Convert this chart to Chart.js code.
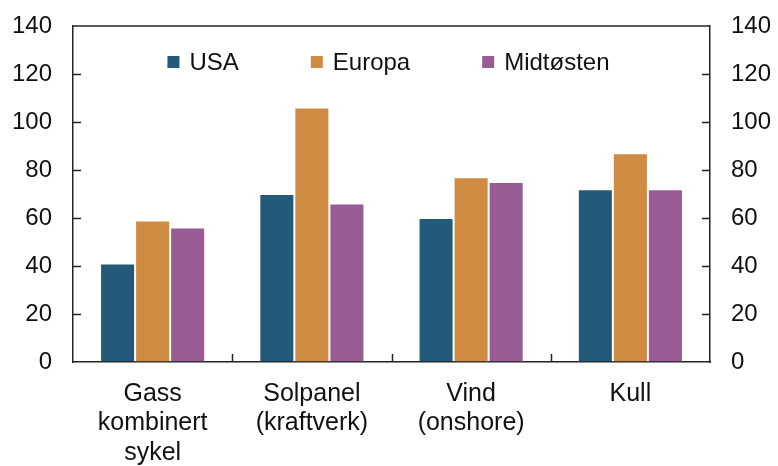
<!DOCTYPE html>
<html>
<head>
<meta charset="utf-8">
<script src="https://cdn.jsdelivr.net/npm/chart.js@4/dist/chart.umd.min.js"></script>
<style>
  body { margin: 0; background: #fff; }
  canvas { display: block; }
</style>
</head>
<body>
<canvas id="chart" width="778" height="466"></canvas>
<script>
// categories and values
const categories = [
    ["Gass", "kombinert", "sykel"],
    ["Solpanel", "(kraftverk)"],
    ["Vind", "(onshore)"],
    ["Kull"]
];
const usa = [41, 70, 60, 72];
const europa = [59, 106, 77, 87];
const midtosten = [56, 66, 75, 72];
const y_ticks = [0, 20, 40, 60, 80, 100, 120, 140];

const font_family = "'Liberation Sans', Arial, sans-serif";
const axis_color = "#222222";
const tick_len = 8;

// inward tick marks, top border and legend inside the plot
const frame_plugin = {
    id: "frame",
    afterDraw(chart)
    {
        const ctx = chart.ctx;
        const area = chart.chartArea;
        const y = chart.scales.y;

        ctx.save();
        ctx.strokeStyle = axis_color;
        ctx.lineWidth = 1.5;

        // top border
        ctx.beginPath();
        ctx.moveTo(area.left, area.top);
        ctx.lineTo(area.right, area.top);
        ctx.stroke();

        // y ticks on both sides
        for (const v of y_ticks)
        {
            if (v === 0 || v === 140) continue;
            const py = Math.round(y.getPixelForValue(v)) + 0.5;
            ctx.beginPath();
            ctx.moveTo(area.left, py);
            ctx.lineTo(area.left + tick_len, py);
            ctx.moveTo(area.right, py);
            ctx.lineTo(area.right - tick_len, py);
            ctx.stroke();
        }

        // category separators on the x axis
        const n = categories.length;
        const step = (area.right - area.left) / n;
        for (let i = 1; i < n; i++)
        {
            const px = Math.round(area.left + step * i) + 0.5;
            ctx.beginPath();
            ctx.moveTo(px, area.bottom);
            ctx.lineTo(px, area.bottom - tick_len);
            ctx.stroke();
        }

        // legend
        const box = 12;
        const gap = 10;
        const item_gap = 72;
        ctx.font = "24px " + font_family;
        const items = chart.data.datasets.map(function(ds) {
            return { text: ds.label, color: ds.backgroundColor, w: ctx.measureText(ds.label).width };
        });
        let total = 0;
        items.forEach(function(it, i) {
            total += box + gap + it.w + (i < items.length - 1 ? item_gap : 0);
        });
        let lx = (area.left + area.right) / 2 - total / 2 - 3;
        const ly = area.top + 36;
        ctx.textBaseline = "middle";
        ctx.textAlign = "left";
        for (const it of items)
        {
            ctx.fillStyle = it.color;
            ctx.fillRect(lx, ly - box / 2, box, box);
            ctx.fillStyle = "#111111";
            ctx.fillText(it.text, lx + box + gap, ly + 1);
            lx += box + gap + it.w + item_gap;
        }
        ctx.restore();
    }
};

const y_scale_common = {
    min: 0,
    max: 140,
    ticks: {
        stepSize: 20,
        padding: 21,
        color: "#111111",
        font: { family: font_family, size: 24 }
    },
    grid: { drawOnChartArea: false, drawTicks: false },
    border: { display: true, color: axis_color, width: 1.5 }
};

new Chart(document.getElementById("chart"), {
    type: "bar",
    data: {
        labels: categories,
        datasets: [
            { label: "USA", data: usa, backgroundColor: "#245A79" },
            { label: "Europa", data: europa, backgroundColor: "#CF8B41" },
            { label: "Midtøsten", data: midtosten, backgroundColor: "#985B94" }
        ]
    },
    options: {
        responsive: false,
        animation: false,
        devicePixelRatio: 1,
        layout: { padding: { top: 26, left: 0, right: 0, bottom: 0 } },
        datasets: {
            bar: {
                categoryPercentage: 0.66,
                barPercentage: 1.0,
                borderWidth: 1,
                borderColor: "rgba(255,255,255,0.55)",
                borderSkipped: "start"
            }
        },
        plugins: {
            legend: { display: false },
            tooltip: { enabled: false }
        },
        scales: {
            x: {
                ticks: {
                    padding: 17,
                    color: "#111111",
                    maxRotation: 0,
                    autoSkip: false,
                    font: { family: font_family, size: 25, lineHeight: 1.18 }
                },
                grid: { drawOnChartArea: false, drawTicks: false },
                border: { display: true, color: axis_color, width: 1.5 },
                afterFit(scale) { scale.height = 104; }
            },
            y: Object.assign({}, y_scale_common, {
                position: "left",
                afterFit(scale) { scale.width = 73; scale.paddingTop = 0; scale.paddingBottom = 0; }
            }),
            y2: Object.assign({}, y_scale_common, {
                position: "right",
                afterFit(scale) { scale.width = 68; scale.paddingTop = 0; scale.paddingBottom = 0; }
            })
        }
    },
    plugins: [frame_plugin]
});
</script>
</body>
</html>
